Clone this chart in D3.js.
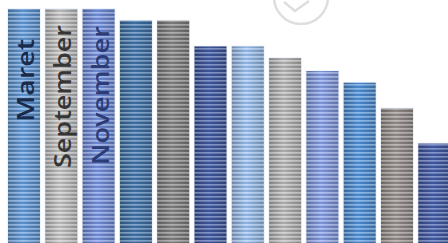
<!DOCTYPE html>
<html>
<head>
<meta charset="utf-8">
<script src="https://cdn.jsdelivr.net/npm/d3@7"></script>
<style>
  html, body { margin: 0; padding: 0; background: #fff; }
  svg { display: block; }
</style>
</head>
<body>
<div id="chart"></div>
<script>
// data
const categories = ['b1', 'b2', 'b3', 'b4', 'b5', 'b6', 'b7', 'b8', 'b9', 'b10', 'b11', 'b12']
const labels = ['Maret', 'September', 'November', '', '', '', '', '', '', '', '', '']
const values = [100, 100, 100, 95, 95, 84, 84, 79, 73.5, 68.5, 57.5, 42.5]

const colors = ['#5a8dc6', '#b2b2b2', '#6b85cc', '#3c6c9c', '#787878', '#3b5296',
    '#8db0da', '#a8a8a8', '#7a90cf', '#4a84c6', '#8a8381', '#3e569a']
const textColors = ['#1a2a4a', '#363636', '#2c3c76']
const labelOffset = [30, 16, 17]
const labelLength = [83, 143, 139]

const width = 448
const height = 243

const data = categories.map((c, i) => ({ key: c, label: labels[i], value: values[i] }))

const svg = d3.select('#chart')
    .append('svg')
    .attr('width', width)
    .attr('height', height)

const defs = svg.append('defs')

// horizontal stripes
const pattern = defs.append('pattern')
    .attr('id', 'stripes')
    .attr('patternUnits', 'userSpaceOnUse')
    .attr('width', 8)
    .attr('height', 4)
pattern.append('rect')
    .attr('x', 0).attr('y', 0).attr('width', 8).attr('height', 1.6)
    .attr('fill', '#fff').attr('opacity', 0.34)
pattern.append('rect')
    .attr('x', 0).attr('y', 2.2).attr('width', 8).attr('height', 1.4)
    .attr('fill', '#000').attr('opacity', 0.14)

// cylinder like shading for each bar
data.forEach((d, i) => {
    const c = d3.color(colors[i])
    const g = defs.append('linearGradient')
        .attr('id', 'grad' + i)
        .attr('x1', '0%').attr('x2', '100%')
        .attr('y1', '0%').attr('y2', '0%')
    g.append('stop').attr('offset', '0%').attr('stop-color', c.darker(0.45))
    g.append('stop').attr('offset', '45%').attr('stop-color', c.brighter(0.35))
    g.append('stop').attr('offset', '100%').attr('stop-color', c.darker(0.35))
})

// faint watermark behind the chart
const mark = svg.append('g')
    .attr('fill', 'none')
    .attr('stroke', '#dedede')
    .attr('stroke-width', 2.5)
mark.append('circle').attr('cx', 301).attr('cy', -3).attr('r', 27)
mark.append('path').attr('d', 'M284,2 L295,11 L309,1')

const xScale = d3.scaleBand()
    .domain(categories)
    .range([8, 450.3])
    .paddingInner(0.142)
    .paddingOuter(0)

const yScale = d3.scaleLinear()
    .domain([0, 100])
    .range([height, 9])

const bars = svg.selectAll('.bar')
    .data(data)
    .enter()
    .append('g')
    .attr('class', 'bar')

bars.append('rect')
    .attr('x', (d) => xScale(d.key) - 1)
    .attr('y', (d) => yScale(d.value) - 1)
    .attr('width', xScale.bandwidth() + 2)
    .attr('height', (d) => yScale(0) - yScale(d.value) + 1)
    .attr('fill', '#eef4fb')

bars.append('rect')
    .attr('x', (d) => xScale(d.key))
    .attr('y', (d) => yScale(d.value))
    .attr('width', xScale.bandwidth())
    .attr('height', (d) => yScale(0) - yScale(d.value))
    .attr('fill', (d, i) => `url(#grad${i})`)

bars.append('rect')
    .attr('x', (d) => xScale(d.key))
    .attr('y', (d) => yScale(d.value))
    .attr('width', xScale.bandwidth())
    .attr('height', (d) => yScale(0) - yScale(d.value))
    .attr('fill', 'url(#stripes)')

// rotated labels inside the first bars
svg.selectAll('.label')
    .data(data.filter((d) => d.label))
    .enter()
    .append('text')
    .attr('class', 'label')
    .attr('transform', (d, i) => {
        const x = xScale(d.key) + xScale.bandwidth() / 2 + 10
        const y = yScale(d.value) + labelOffset[i]
        return `translate(${x},${y}) rotate(-90)`
    })
    .attr('text-anchor', 'end')
    .attr('textLength', (d, i) => labelLength[i])
    .attr('lengthAdjust', 'spacingAndGlyphs')
    .attr('font-family', '"Open Sans", sans-serif')
    .attr('font-weight', 600)
    .attr('font-size', 23)
    .attr('fill', (d, i) => textColors[i])
    .text((d) => d.label)
</script>
</body>
</html>
